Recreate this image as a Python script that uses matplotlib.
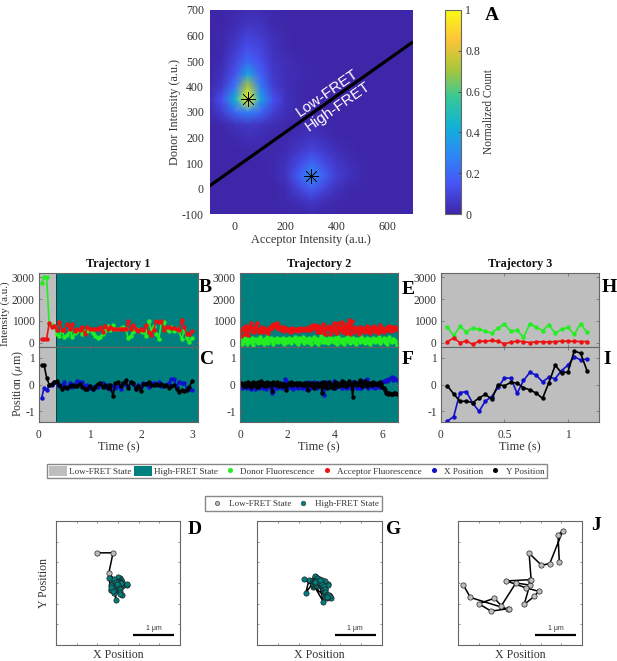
import numpy as np
import matplotlib
matplotlib.use('Agg')
import matplotlib.pyplot as plt
from matplotlib.colors import LinearSegmentedColormap
from matplotlib.lines import Line2D
from matplotlib.patches import Patch

plt.rcParams['font.family'] = ['Liberation Serif', 'DejaVu Serif']
plt.rcParams['mathtext.fontset'] = 'stix'
plt.rcParams['axes.unicode_minus'] = False

W, H = 617, 661
LOW = '#BEBEBE'
HIGH = '#007F7F'
EDGE = '#666666'
TXT = '#333333'

# ---------- heat map values (rows: donor, columns: acceptor) ----------
heat_x = [-100, -50, 0, 50, 100, 150, 200, 250, 300, 350, 400, 450, 500, 550, 600, 650, 700]
heat_y = [-100, -50, 0, 50, 100, 150, 200, 250, 300, 350, 400, 450, 500, 550, 600, 650, 700]
heat_rows = [
    [0, 0, 0, 0, 0, 0, 0, 0, .01, 0, 0, 0, 0, 0, 0, 0, 0],
    [0, 0, 0, 0, 0, 0, .01, .03, .06, .03, .01, 0, 0, 0, 0, 0, 0],
    [0, 0, 0, 0, 0, 0, .02, .09, .17, .10, .04, .01, 0, 0, 0, 0, 0],
    [0, 0, 0, 0, 0, .01, .05, .17, .32, .18, .08, .04, .01, 0, 0, 0, 0],
    [0, 0, 0, 0, 0, .01, .04, .11, .20, .12, .06, .03, .01, 0, 0, 0, 0],
    [0, 0, 0, .01, .01, .01, .02, .06, .10, .07, .03, .01, 0, 0, 0, 0, 0],
    [0, 0, .01, .03, .02, .01, .01, .03, .05, .03, .01, 0, 0, 0, 0, 0, 0],
    [0, .01, .04, .06, .05, .02, .01, .01, .02, .01, 0, 0, 0, 0, 0, 0, 0],
    [.01, .08, .20, .28, .20, .08, .03, .01, 0, 0, 0, 0, 0, 0, 0, 0, 0],
    [.02, .14, .42, 1.0, .38, .14, .04, .01, 0, 0, 0, 0, 0, 0, 0, 0, 0],
    [.01, .07, .24, .72, .26, .08, .03, .01, 0, 0, 0, 0, 0, 0, 0, 0, 0],
    [0, .04, .14, .38, .18, .06, .03, .02, .01, 0, 0, 0, 0, 0, 0, 0, 0],
    [0, .02, .10, .20, .13, .05, .03, .01, 0, 0, 0, 0, 0, 0, 0, 0, 0],
    [0, .01, .07, .13, .10, .04, .01, 0, 0, 0, 0, 0, 0, 0, 0, 0, 0],
    [0, .01, .04, .09, .07, .03, .01, 0, 0, 0, 0, 0, 0, 0, 0, 0, 0],
    [0, 0, .02, .05, .04, .01, 0, 0, 0, 0, 0, 0, 0, 0, 0, 0, 0],
    [0, 0, .01, .02, .02, .01, 0, 0, 0, 0, 0, 0, 0, 0, 0, 0, 0],
]
line_x = [-100, 700]
line_y = [10, 575]
peak_x = [50, 300]
peak_y = [350, 50]

# ---------- trajectory 1 ----------
t1_donor = [2750, 3000, 3000, 850, 800, 750, 400, 320, 520, 250,
            330, 530, 280, 450, 520, 580, 380, 520, 550, 600,
            450, 300, 230, 280, 420, 550, 780, 600, 800, 620,
            650, 680, 700, 620, 220, 300, 500, 650, 600, 550,
            480, 320, 1000, 600, 750, 400, 150, 950, 950, 650,
            550, 720, 550, 650, 530, 150, 600, 200, 20, 200]
t1_acceptor = [170, 170, 170, 900, 700, 750, 600, 950, 600, 600,
               850, 650, 850, 550, 650, 600, 700, 400, 700, 650,
               620, 650, 650, 720, 500, 780, 620, 700, 650, 650,
               650, 650, 650, 620, 1000, 650, 800, 650, 520, 650,
               580, 800, 500, 350, 600, 1000, 950, 1000, 600, 700,
               700, 680, 680, 620, 600, 1050, 700, 400, 380, 520]
t1_x = [-0.52, -0.12, -0.22, -0.03, -0.02, 0.08, 0.05, -0.05, -0.03, 0.08,
        -0.12, 0.06, -0.10, 0.03, 0.12, 0.10, 0.10, -0.05, -0.02, -0.12,
        -0.17, -0.06, -0.08, 0.03, 0.05, -0.10, 0.00, -0.15, -0.04, -0.12,
        -0.05, -0.16, 0.04, 0.00, -0.08, 0.08, 0.02, -0.17, 0.00, -0.10,
        0.05, 0.02, -0.10, 0.06, 0.05, 0.00, 0.08, -0.05, 0.00, -0.02,
        0.06, 0.22, 0.22, -0.10, 0.10, 0.05, 0.05, -0.12, -0.18, -0.22]
t1_y = [0.73, 0.73, 0.25, 0.00, 0.02, 0.08, 0.12, 0.00, -0.18, -0.08,
        -0.12, -0.06, -0.02, -0.05, -0.05, 0.03, -0.08, -0.16, -0.15, -0.05,
        -0.18, -0.10, 0.03, 0.05, -0.10, -0.03, -0.12, -0.03, -0.42, 0.05,
        0.08, -0.05, 0.05, 0.15, -0.12, 0.08, 0.06, -0.18, -0.05, -0.25,
        0.02, 0.03, 0.10, 0.00, -0.03, 0.03, 0.00, 0.03, -0.06, -0.02,
        -0.14, -0.06, -0.02, -0.18, -0.28, -0.22, -0.26, -0.20, -0.10, 0.12]

# ---------- trajectory 2 ----------
t2_donor = [220, -80, 60, 230, 120, -50, 180, 90, 10, 220, -90, 150,
            60, 190, -30, 120, 240, 20, 110, -60, 170, 70, 250, 0,
            130, 200, 60, -70, 150, 90, 230, 10, 120, 180, 40, 210,
            -40, 100, 160, 30, 230, 80, -30, 170, 110, 240, 20, 140,
            -70, 200, 60, 120, 260, -20, 90, 170, 30, 220, 100, -40,
            150, 240, 50, 110, 190, -60, 130, 300, 20, 90, 210, 40,
            170, -30, 120, 260, 60, 150, 10, 200, 90, -70, 240, 110,
            30, 180, 130, -40, 210, 70, 160, 290, 0, 120, 230, 50,
            100, -50, 190, 140, 20, 250, 80, 170, -30, 110, 210, 40,
            150, -60, 90, 230, 120, 20, 180, 60, 270, -20, 140, 100,
            200, 30, 160, -50, 110, 240, 70, 10, 190, 120, 60, -90]
t2_acceptor = [320, 620, 720, 400, 780, 600, 350, 700, 880, 520, 660, 480,
               720, 920, 560, 500, 640, 700, 480, 620, 680, 540, 600, 430,
               720, 620, 800, 780, 860, 700, 880, 620, 760, 660, 590, 720,
               520, 650, 690, 560, 620, 500, 600, 680, 540, 620, 580, 640,
               520, 600, 680, 560, 610, 660, 570, 640, 600, 720, 560, 650,
               800, 700, 830, 620, 480, 760, 640, 500, 720, 860, 560, 420,
               700, 620, 760, 380, 640, 560, 880, 500, 720, 460, 900, 620,
               560, 950, 480, 760, 430, 860, 540, 1050, 380, 1000, 620, 480,
               720, 560, 640, 420, 700, 600, 520, 680, 470, 640, 760, 520,
               620, 430, 700, 560, 760, 520, 680, 460, 620, 800, 540, 680,
               480, 640, 560, 720, 600, 780, 520, 680, 740, 580, 700, 620]
t2_x = [-0.05, -0.12, 0.02, -0.10, -0.03, -0.14, 0.00, -0.08, -0.15, -0.04, -0.10, 0.02,
        -0.16, -0.06, -0.02, -0.13, 0.03, -0.08, -0.12, -0.01, -0.09, -0.16, -0.04, 0.00,
        -0.10, -0.14, -0.33, -0.25, -0.10, -0.02, -0.12, -0.06, -0.03, -0.10, -0.14, -0.04,
        0.06, 0.20, 0.12, -0.14, -0.02, -0.10, -0.08, 0.02, -0.15, -0.06, -0.10, -0.02,
        -0.12, -0.08, -0.06, -0.14, -0.02, -0.10, -0.05, -0.15, 0.10, 0.02, -0.12, -0.08,
        -0.02, 0.10, -0.10, -0.04, -0.12, 0.05, -0.05, 0.02, 0.10, -0.14, -0.38, -0.06,
        0.08, 0.00, -0.08, 0.05, -0.04, -0.12, 0.12, -0.12, -0.10, -0.06, 0.04, 0.02,
        -0.08, -0.12, 0.04, 0.00, -0.14, -0.08, -0.08, -0.10, -0.03, -0.15, 0.09, -0.02,
        0.09, -0.10, -0.12, -0.04, -0.12, -0.14, -0.08, 0.12, -0.05, -0.02, 0.20, -0.12,
        -0.06, 0.02, -0.10, 0.05, -0.04, -0.12, -0.02, 0.05, -0.08, 0.00, -0.10, 0.10,
        0.14, 0.12, 0.15, 0.12, 0.18, 0.22, 0.25, 0.28, 0.18, 0.26, 0.20, 0.18]
t2_y = [0.06, 0.02, -0.05, 0.05, -0.06, 0.02, 0.08, -0.03, -0.10, 0.04, 0.08, -0.02,
        0.05, -0.08, 0.10, -0.04, 0.02, 0.14, -0.02, 0.06, -0.05, 0.02, 0.08, -0.02,
        0.05, 0.03, -0.24, 0.08, 0.02, -0.03, 0.10, 0.03, -0.04, 0.06, 0.03, -0.05,
        0.02, -0.02, -0.20, 0.00, 0.06, 0.02, 0.08, -0.02, 0.06, 0.01, 0.04, -0.02,
        0.05, 0.02, 0.06, -0.02, -0.02, 0.04, -0.02, 0.07, -0.22, 0.02, 0.05, -0.02,
        0.04, -0.14, 0.03, 0.00, 0.06, -0.04, 0.00, 0.05, -0.30, -0.08, 0.10, -0.02,
        -0.14, 0.05, 0.08, 0.02, -0.08, -0.02, -0.14, 0.10, -0.02, 0.05, -0.05, 0.02,
        0.00, 0.13, -0.03, 0.08, -0.05, -0.02, 0.05, 0.14, 0.02, -0.03, -0.45, 0.10,
        0.02, 0.05, -0.02, 0.07, 0.18, 0.03, -0.05, 0.04, 0.12, 0.02, -0.04, 0.05,
        0.03, 0.06, 0.00, 0.08, 0.03, 0.05, 0.02, -0.02, 0.06, 0.08, 0.02, -0.08,
        -0.14, -0.22, -0.30, -0.33, -0.36, -0.30, -0.35, -0.36, -0.34, -0.32, -0.30, -0.35]

# ---------- trajectory 3 ----------
t3_donor = [715, 320, 745, 500, 670, 620, 520, 440, 680, 840, 520, 580,
            240, 870, 715, 550, 820, 440, 610, 700, 380, 870, 470]
t3_acceptor = [50, 210, 0, 80, -80, 70, 60, 100, 60, -50, 20, 70,
               50, 0, 40, 40, 30, 50, 70, 70, 60, 50, 50]
t3_x = [-1.37, -1.20, -0.30, -0.27, -0.70, -1.00, -0.62, -0.45, -0.10, 0.24, 0.24, -0.33,
        0.15, 0.45, 0.35, 0.10, 0.27, 0.22, 0.52, 0.72, 1.03, 0.92, 0.95]
t3_y = [-0.05, -0.35, -0.63, -0.62, -0.68, -0.50, -0.37, -0.55, 0.00, -0.05, 0.08, 0.05,
        -0.12, -0.20, -0.32, -0.52, 0.07, 0.72, 0.43, 0.47, 1.25, 1.17, 0.52]

dt = 0.05
trajectories = [
    dict(d=t1_donor, a=t1_acceptor, x=t1_x, y=t1_y, xlim=3.12, ticks=[0, 1, 2, 3], labels=['0', '1', '2', '3'],
         boundary=0.33, n_low=3, left=39, right=198, title='Trajectory 1', sc=(56, 180)),
    dict(d=t2_donor, a=t2_acceptor, x=t2_x, y=t2_y, xlim=6.66, ticks=[0, 2, 4, 6], labels=['0', '2', '4', '6'],
         boundary=0.0, n_low=0, left=240, right=398, title='Trajectory 2', sc=(257, 382)),
    dict(d=t3_donor, a=t3_acceptor, x=t3_x, y=t3_y, xlim=1.245, ticks=[0, 0.5, 1], labels=['0', '0.5', '1'],
         boundary=1.245, n_low=23, left=441, right=599, title='Trajectory 3', sc=(458, 582)),
]

parula = LinearSegmentedColormap.from_list('parula', [
    (0.2422, 0.1504, 0.6603), (0.2810, 0.3228, 0.9579), (0.1786, 0.5289, 0.9682),
    (0.0689, 0.6948, 0.8394), (0.2161, 0.7843, 0.5923), (0.6720, 0.7793, 0.2227),
    (0.9970, 0.7659, 0.2199), (0.9769, 0.9839, 0.0805)])

fig = plt.figure(figsize=(W / 100, H / 100), dpi=100)


def add_ax(x0, x1, y0, y1):
    return fig.add_axes([x0 / W, 1 - y1 / H, (x1 - x0) / W, (y1 - y0) / H])


def ftext(px, py, s, **kw):
    return fig.text(px / W, 1 - py / H, s, ha=kw.pop('ha', 'center'), va=kw.pop('va', 'center'), **kw)


def style(ax, size=8.3):
    for s in ax.spines.values():
        s.set_color(EDGE)
        s.set_linewidth(0.8)
    ax.tick_params(direction='in', length=2, width=0.5, color=EDGE, labelcolor=TXT,
                   labelsize=size, pad=3, top=True, right=True)


# ---------- panel A ----------
ax = add_ax(209.5, 413, 10, 214)
mesh = ax.pcolormesh(heat_x, heat_y, np.array(heat_rows), cmap=parula, vmin=0, vmax=1,
                     shading='gouraud', rasterized=True)
ax.plot(line_x, line_y, color='black', lw=2.3, solid_capstyle='butt')
ax.plot(peak_x, peak_y, ls='none', marker=(8, 2, 0), ms=10.5, mew=0.45, color='black')
ax.plot(peak_x, peak_y, ls='none', marker='o', ms=1.5, color='black')
ax.set_xlim(-100, 700)
ax.set_ylim(-100, 700)
ax.set_xticks([0, 200, 400, 600])
ax.set_yticks(np.arange(-100, 701, 100))
style(ax, 8.6)
ax.tick_params(length=0, axis='x', pad=5)
ax.tick_params(length=0, axis='y', pad=4)
for s in ax.spines.values():
    s.set_visible(False)
ftext(311, 240, 'Acceptor Intensity (a.u.)', fontsize=8.8, color=TXT)
ftext(175, 112, 'Donor Intensity (a.u.)', fontsize=8.8, color=TXT, rotation=90)
ax.text(362, 374, 'Low-FRET', color='white', rotation=35, fontsize=11, family='Liberation Sans',
        ha='center', va='center', rotation_mode='anchor')
ax.text(405, 323, 'High-FRET', color='white', rotation=35, fontsize=11, family='Liberation Sans',
        ha='center', va='center', rotation_mode='anchor')

cax = add_ax(445, 461, 10, 214)
cb = fig.colorbar(mesh, cax=cax)
cb.set_ticks([0, 0.2, 0.4, 0.6, 0.8, 1])
cb.set_ticklabels(['0', '0.2', '0.4', '0.6', '0.8', '1'])
cb.ax.tick_params(labelsize=8.6, length=2, width=0.5, direction='in', colors=TXT, pad=3)
cb.outline.set_edgecolor(EDGE)
cb.outline.set_linewidth(0.8)
ftext(489, 112, 'Normalized Count', rotation=90, fontsize=8.3, color=TXT)
ftext(492, 15, 'A', fontsize=14, fontweight='bold', color='black')

# ---------- trajectory panels ----------
for i, tr in enumerate(trajectories):
    L, R = tr['left'], tr['right']
    t = dt * (np.arange(len(tr['d'])) + 1)

    top = add_ax(L, R, 273, 347)
    bot = add_ax(L, R, 347, 422)
    for a in (top, bot):
        a.axvspan(0, tr['boundary'], color=LOW, lw=0, zorder=0)
        a.axvspan(tr['boundary'], tr['xlim'], color=HIGH, lw=0, zorder=0)
        if 0 < tr['boundary'] < tr['xlim']:
            a.axvline(tr['boundary'], color='#14403f', lw=0.7, zorder=1)
        a.set_xlim(0, tr['xlim'])
        a.set_xticks(tr['ticks'])
        style(a)
    lw, ms = 1.2, 3.2
    top.plot(t, tr['d'], '-o', color='#22EE22', lw=lw, ms=ms, mew=0)
    top.plot(t, tr['a'], '-o', color='#EE1111', lw=lw, ms=ms, mew=0)
    bot.plot(t, tr['x'], '-o', color='#1111CC', lw=lw, ms=ms, mew=0)
    bot.plot(t, tr['y'], '-o', color='black', lw=lw, ms=ms, mew=0)
    top.set_ylim(-200, 3200)
    top.set_yticks([0, 1000, 2000, 3000])
    top.tick_params(labelbottom=False)
    bot.set_ylim(-1.4, 1.4)
    bot.set_yticks([-1, 0, 1])
    bot.set_xticklabels(tr['labels'])
    bot.tick_params(pad=5, axis='x')
    ftext((L + R) / 2, 447, 'Time (s)', fontsize=8.8, color=TXT)
    ftext((L + R) / 2, 264, tr['title'], fontsize=8.7, fontweight='bold', color='#111111')
    if i == 0:
        ftext(5, 314, 'Intensity (a.u.)', rotation=90, fontsize=7.9, color=TXT)
        ftext(18, 384, r'Position ($\mu$m)', rotation=90, fontsize=8.6, color=TXT)

    # XY panel
    sx0, sx1 = tr['sc']
    sc = add_ax(sx0, sx1, 521, 645)
    sc.plot(tr['x'], tr['y'], '-', color='black', lw=1.1, zorder=2)
    n = tr['n_low']
    sc.plot(tr['x'][:n], tr['y'][:n], 'o', ms=3.8, mfc=LOW, mec='#222222', mew=0.5, zorder=3)
    sc.plot(tr['x'][n:], tr['y'][n:], 'o', ms=3.8, mfc=HIGH, mec='#222222', mew=0.5, zorder=3)
    sc.set_xlim(-1.5, 1.5)
    sc.set_ylim(-1.5, 1.5)
    sc.set_xticks(np.arange(-1, 1.01, 0.5))
    sc.set_yticks(np.arange(-1, 1.01, 0.5))
    style(sc)
    sc.tick_params(labelbottom=False, labelleft=False, length=1.5)
    sc.plot([0.36, 1.36], [-1.25, -1.25], color='black', lw=1.6, solid_capstyle='butt')
    sc.text(0.86, -1.11, '1 ' + '\u03bcm', fontsize=5, family='Liberation Sans', color=TXT,
            ha='center', va='center')
    ftext((sx0 + sx1) / 2, 654.5, 'X Position', fontsize=8.6, color=TXT)
    if i == 0:
        ftext(44, 583, 'Y Position', fontsize=8.6, color=TXT, rotation=90)

letters = {'B': (205, 287), 'C': (207, 359), 'E': (408, 289), 'F': (408, 359),
           'H': (609, 287), 'I': (607, 359), 'D': (195, 529), 'G': (394, 529), 'J': (596, 526)}
for k, (px, py) in letters.items():
    ftext(px, py, k, fontsize=14, fontweight='bold', color='black')


# ---------- legends ----------
def dot(c):
    return Line2D([], [], ls='none', marker='o', ms=2.6, color=c)


h1 = [Patch(fc=LOW, ec='none'), Patch(fc=HIGH, ec='none'), dot('#22EE22'), dot('#EE1111'),
      dot('#1111CC'), dot('black')]
l1 = ['Low-FRET State', 'High-FRET State', 'Donor Fluorescence', 'Acceptor Fluorescence',
      'X Position', 'Y Position']
leg1 = fig.legend(h1, l1, loc='center', bbox_to_anchor=(297 / W, 1 - 471 / H), ncol=6, fontsize=6.6,
                  frameon=True, fancybox=False, edgecolor='#888888', framealpha=1, handlelength=1.95,
                  handleheight=1.2, handletextpad=0.2, columnspacing=0.3, borderpad=0.25, borderaxespad=0,
                  labelcolor=TXT)
h2 = [Line2D([], [], ls='none', marker='o', ms=3, mfc=LOW, mec='#444444', mew=0.5),
      Line2D([], [], ls='none', marker='o', ms=3.4, mfc=HIGH, mec='#444444', mew=0.4)]
leg2 = fig.legend(h2, ['Low-FRET State', 'High-FRET State'], loc='center',
                  bbox_to_anchor=(293.5 / W, 1 - 503.5 / H), ncol=2, fontsize=6.6, frameon=True, fancybox=False,
                  edgecolor='#888888', framealpha=1, handlelength=2.0, handletextpad=0.3, columnspacing=0.3,
                  borderpad=0.35, borderaxespad=0, labelcolor=TXT)

fig.savefig('out.png', dpi=100)
